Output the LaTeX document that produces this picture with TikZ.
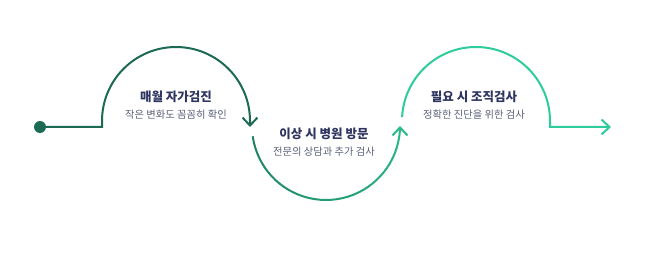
\documentclass[tikz,border=0pt]{standalone}
\usepackage{fontspec}
\setmainfont{Noto Sans CJK KR}
\usetikzlibrary{arrows.meta, positioning}
\definecolor{darkgreen}{HTML}{1C6A54}
\definecolor{arcstart}{HTML}{1F8264}
\definecolor{arcend}{HTML}{29B88A}
\definecolor{lightgreen}{HTML}{2ECC9C}
\definecolor{titleblue}{HTML}{2E3560}
\definecolor{subgray}{HTML}{5A5F78}

\begin{document}
\begin{tikzpicture}[x=1pt, y=1pt,
  flow/.style={line width=2pt, -{Straight Barb[length=8pt, width=15pt, line width=2pt]}},
  title/.style={font=\bfseries\fontsize{12.5}{14}\selectfont, text=titleblue},
  subtitle/.style={font=\fontsize{10.3}{12}\selectfont, text=subgray}]
  \useasboundingbox (0,0) rectangle (654,268);
  % start dot + step 1 (up)
  \node[circle, fill=darkgreen, minimum size=12pt, inner sep=0pt] (start) at (40,141) {};
  \coordinate (up1) at (102,141);
  \coordinate (down1) at (250,141);
  \draw[flow, darkgreen] (start.center) -- (up1) -- ++(0,6)
    arc[start angle=180, end angle=0, radius=74] -- (down1);
  \node[title] (t1) at (176,171) {매월 자가검진};
  \node[subtitle, below=0pt of t1] (s1) {작은 변화도 꼼꼼히 확인};
  % step 2 (down), colour shifts along the arc
  \coordinate (c2) at (326,142);
  \foreach \i in {0,...,18} {
    \pgfmathsetmacro\a{188+8.6*\i}
    \pgfmathsetmacro\pct{\i/19*100}
    \draw[line width=2pt, color=arcend!\pct!arcstart]
      ([shift={(\a:74)}]c2) arc[start angle=\a, end angle=\a+8.8, radius=74];
  }
  \draw[flow, arcend] ([shift={(351.4:74)}]c2) arc[start angle=351.4, end angle=360, radius=74];
  \node[title] (t2) at (324,134) {이상 시 병원 방문};
  \node[subtitle, below=0pt of t2] (s2) {전문의 상담과 추가 검사};
  % step 3 (up) + end arrow
  \coordinate (c3) at (476,147);
  \coordinate (end) at (611,141);
  \draw[flow, lightgreen] ([shift={(177:74)}]c3) arc[start angle=177, end angle=0, radius=74]
    -- ++(0,-6) -- (end);
  \node[title] (t3) at (474,171) {필요 시 조직검사};
  \node[subtitle, below=0pt of t3] (s3) {정확한 진단을 위한 검사};
\end{tikzpicture}
\end{document}
